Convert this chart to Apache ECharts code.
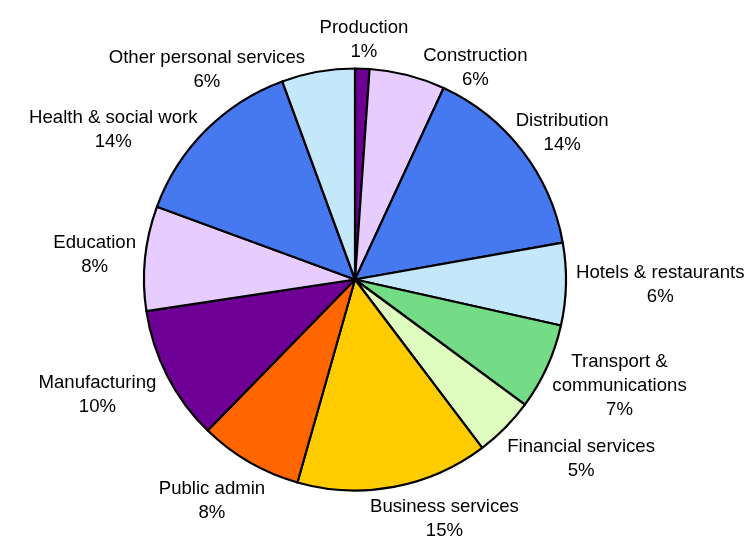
<!DOCTYPE html>
<html><head><meta charset="utf-8">
<script src="https://cdn.jsdelivr.net/npm/echarts@6/dist/echarts.min.js"></script>
<style>html,body{margin:0;padding:0;background:#fff}#c{width:746px;height:538px}</style>
</head><body><div id="c"></div>
<script>
// ---- data ----
const categories = ['Production','Construction','Distribution','Hotels & restaurants','Transport &\ncommunications','Financial services','Business services','Public admin','Manufacturing','Education','Health & social work','Other personal services'];
const shares = [1.1, 5.8, 15.3, 6.3, 6.6, 4.6, 14.7, 7.9, 10.3, 8.0, 13.8, 5.6];
const percentLabels = ['1%','6%','14%','6%','7%','5%','15%','8%','10%','8%','14%','6%'];
const sliceColors = ['#6E0096','#E6CCFF','#4679F0','#C4E8FA','#74DB87','#DEFDBE','#FFCC00','#FF6600','#6E0096','#E6CCFF','#4679F0','#C4E8FA'];

// ---- layout constants ----
const W = 746, H = 538;
const CX = 355, CY = 279.5, RADIUS = 211;
const FONT = 18.6, LINE_H = 24, FONT_FAMILY = '"Liberation Sans", Arial, sans-serif';
const R0 = 222, R_MIN = 221, GAP_X = 14, GAP_Y = 12, STEP = 0.2, BLEED = 5;
const GLYPH_TOP = 5, GLYPH_BOTTOM = 18.5;

const labelTexts = categories.map((n, i) => n + '\n' + percentLabels[i]);

// measure label sizes
const cv = document.createElement('canvas').getContext('2d');
cv.font = FONT + 'px ' + FONT_FAMILY;
const sizes = labelTexts.map(t => {
  const lines = t.split('\n');
  const lw = lines.map(l => cv.measureText(l).width);
  return { lw, w: Math.max(...lw), h: lines.length * LINE_H };
});

// mid angles (degrees clockwise from top)
const total = shares.reduce((a, b) => a + b, 0);
let acc = 0;
const phis = shares.map(v => { const m = (acc + v / 2) / total * 360; acc += v; return m; });

function minGlyphDist(x, y, sz) {
  let best = Infinity;
  const top = y - sz.h / 2;
  sz.lw.forEach((lw, k) => {
    const y0 = top + k * LINE_H + GLYPH_TOP, y1 = top + k * LINE_H + GLYPH_BOTTOM;
    const x0 = x - lw / 2, x1 = x + lw / 2;
    const dx = Math.max(x0 - CX, 0, CX - x1), dy = Math.max(y0 - CY, 0, CY - y1);
    best = Math.min(best, Math.hypot(dx, dy));
  });
  return best;
}
function boxAt(phi, sz) {
  const rad = phi * Math.PI / 180, s = Math.sin(rad), c = Math.cos(rad);
  let vx = (R0 + sz.w / 2) * s, vy = -(R0 + sz.h / 2) * c;
  const len = Math.hypot(vx, vy); vx /= len; vy /= len;
  let lo = 0, hi = 800;
  for (let k = 0; k < 40; k++) {
    const t = (lo + hi) / 2;
    if (minGlyphDist(CX + t * vx, CY + t * vy, sz) < R_MIN) lo = t; else hi = t;
  }
  return { x: CX + hi * vx, y: CY + hi * vy, w: sz.w, h: sz.h };
}
function overlap(a, b) {
  return Math.abs(a.x - b.x) < (a.w + b.w) / 2 + GAP_X && Math.abs(a.y - b.y) < (a.h + b.h) / 2 + GAP_Y;
}
const norm = p => ((p % 360) + 360) % 360;
const poleDist = p => { const a = norm(p) % 180; return Math.min(a, 180 - a); };
function moveAway(i) {
  const a = norm(phis[i]);
  phis[i] += ((a < 90 || (a >= 180 && a < 270)) ? 1 : -1) * STEP;
}
let boxes;
for (let it = 0; it < 4000; it++) {
  boxes = phis.map((p, i) => boxAt(p, sizes[i]));
  let moved = false;
  for (let i = 0; i < boxes.length; i++) {
    const b = boxes[i];
    if (b.y + b.h / 2 > H + BLEED || b.y - b.h / 2 < -BLEED) { moveAway(i); moved = true; }
  }
  for (let i = 0; i < boxes.length; i++) for (let j = i + 1; j < boxes.length; j++) {
    if (overlap(boxes[i], boxes[j])) {
      moveAway(poleDist(phis[i]) >= poleDist(phis[j]) ? i : j);
      moved = true;
    }
  }
  if (!moved) break;
}
boxes = phis.map((p, i) => boxAt(p, sizes[i]));

const chart = echarts.init(document.getElementById('c'), null, { renderer: 'canvas' });
chart.setOption({
  animation: false,
  backgroundColor: '#fff',
  series: [{
    type: 'pie',
    center: [CX, CY],
    radius: RADIUS,
    startAngle: 90,
    clockwise: true,
    data: categories.map((n, i) => ({ name: n, value: shares[i], itemStyle: { color: sliceColors[i] } })),
    itemStyle: { borderColor: '#000', borderWidth: 2.2 },
    label: {
      show: true,
      position: 'outside',
      formatter: p => labelTexts[p.dataIndex],
      fontSize: FONT,
      fontFamily: FONT_FAMILY,
      color: '#000',
      lineHeight: LINE_H,
      overflow: 'none',
      width: 400
    },
    labelLine: { show: false },
    labelLayout: p => ({ x: boxes[p.dataIndex].x, y: boxes[p.dataIndex].y, align: 'center', verticalAlign: 'middle' }),
    emphasis: { disabled: true }
  }]
});
</script></body></html>
